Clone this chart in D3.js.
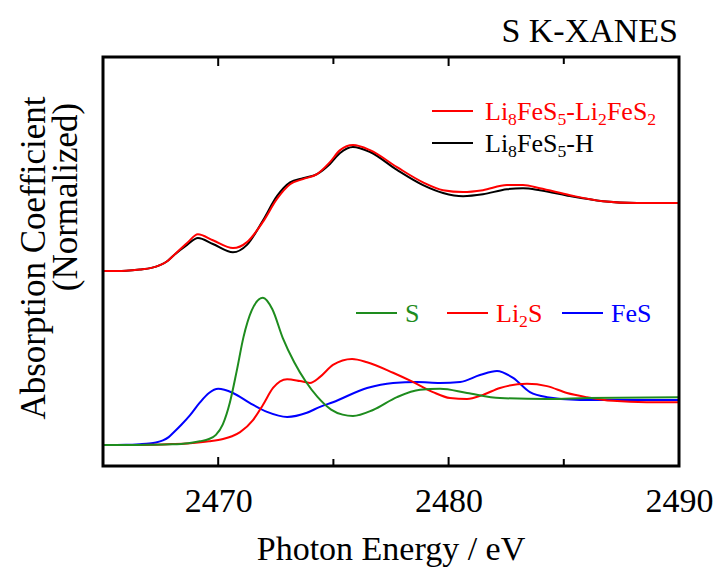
<!DOCTYPE html>
<html>
<head>
<meta charset="utf-8">
<script src="https://cdn.jsdelivr.net/npm/d3@7/dist/d3.min.js"></script>
<style>
  body { margin: 0; background: #fff; }
  svg text { font-family: "Liberation Serif", "Times New Roman", "DejaVu Serif", serif; }
</style>
</head>
<body>
<div id="chart"></div>
<script>
// S K-edge XANES, photon energy (eV) vs normalized absorption
var xTicks = [2470, 2480, 2490];
var xMinorTicks = [2470, 2475, 2480, 2485];

// reference spectra (lower panel), [energy, absorption]
var specS = [[2465,0],[2466,0],[2467,0.005],[2468,0.015],[2468.7,0.04],[2469.2,0.08],[2469.6,0.13],[2469.9,0.22],
  [2470.2,0.45],[2470.51,0.93],[2470.8,1.6],[2471.1,2.35],[2471.45,2.92],[2471.94,3.2],[2472.35,2.95],
  [2472.8,2.33],[2473.3,1.8],[2473.8,1.38],[2474.3,1.05],[2474.9,0.77],[2475.4,0.66],[2475.85,0.63],
  [2476.72,0.76],[2477.76,1.04],[2478.76,1.2],[2479.63,1.22],[2480.8,1.13],[2482.23,1.02],[2484.27,1.0],
  [2486,1.02],[2490,1.04]];
var specLi2S = [[2465,0],[2466.6,0],[2468,0.02],[2468.78,0.04],[2469.6,0.08],[2470.21,0.13],[2470.6,0.19],[2470.95,0.28],
  [2471.51,0.54],[2471.94,0.87],[2472.38,1.24],[2472.99,1.43],[2473.55,1.39],[2473.98,1.35],[2474.42,1.48],
  [2474.98,1.74],[2475.81,1.87],[2476.46,1.8],[2477.59,1.57],[2478.45,1.37],[2479.32,1.15],[2480.06,1.02],
  [2480.8,1.0],[2481.49,1.09],[2482.23,1.24],[2483.4,1.33],[2484.27,1.28],[2485.14,1.13],[2486,1.04],
  [2487.13,0.96],[2488.6,0.93],[2490,0.93]];
var specFeS = [[2465,0],[2466,0.005],[2466.6,0.018],[2467,0.032],[2467.3,0.055],[2467.6,0.1],[2467.85,0.17],
  [2468.04,0.26],[2468.4,0.44],[2468.78,0.65],[2469.2,0.92],[2469.6,1.13],[2470,1.22],[2470.64,1.13],
  [2471.38,0.91],[2472.12,0.72],[2472.99,0.61],[2473.85,0.7],[2474.42,0.83],[2474.98,0.93],[2476.46,1.24],
  [2477.59,1.35],[2478.63,1.37],[2479.63,1.35],[2480.5,1.37],[2481.36,1.52],[2482.1,1.61],[2482.8,1.46],
  [2483.53,1.15],[2484.27,1.04],[2485.7,0.98],[2490,0.98]];

// samples (upper panel), drawn with a vertical offset
var sampleOffset = 3.78;
var specLi2FeS2 = [[2465,0],[2466,0.01],[2466.6,0.035],[2467.1,0.07],[2467.47,0.13],[2467.8,0.22],[2468.04,0.33],
  [2468.65,0.61],[2469.12,0.8],[2469.77,0.67],[2470.64,0.5],[2471.25,0.63],[2471.94,1.07],[2472.55,1.57],
  [2473.12,1.89],[2473.68,2.0],[2474.29,2.11],[2474.85,2.37],[2475.29,2.63],[2475.85,2.74],[2476.59,2.63],
  [2477.76,2.26],[2478.89,1.93],[2479.76,1.76],[2480.63,1.72],[2481.49,1.76],[2482.53,1.87],[2483.23,1.87],
  [2483.96,1.8],[2485.27,1.65],[2486.7,1.52],[2488.18,1.48],[2490,1.48]];
var specH = [[2465,0],[2466,0.01],[2466.6,0.035],[2467.1,0.07],[2467.47,0.13],[2467.8,0.22],[2468.04,0.33],
  [2468.65,0.57],[2469.12,0.72],[2469.77,0.59],[2470.64,0.41],[2471.25,0.57],[2471.94,1.1],[2472.55,1.63],
  [2473.12,1.93],[2473.68,2.02],[2474.29,2.11],[2474.85,2.33],[2475.29,2.57],[2475.85,2.7],[2476.59,2.59],
  [2477.76,2.2],[2478.89,1.87],[2479.76,1.7],[2480.63,1.63],[2481.49,1.67],[2482.53,1.78],[2483.23,1.8],
  [2483.96,1.76],[2485.27,1.63],[2486.7,1.52],[2488.18,1.48],[2490,1.48]];

var RED = "#ff0000", GREEN = "#1e8c1e", BLUE = "#0000ff", BLACK = "#000000";
var SERIF = "Liberation Serif, Times New Roman, serif";

var w = 716, h = 572;
var margin = {left: 103, right: 37, top: 57, bottom: 106};

var svg = d3.select("#chart").append("svg").attr("width", w).attr("height", h)
  .attr("font-family", SERIF);

var x = d3.scaleLinear().domain([2465, 2490]).range([margin.left, w - margin.right]);
var y = d3.scaleLinear().domain([-0.457, 8.435]).range([h - margin.bottom, margin.top]);

var line = function(off) {
  return d3.line()
    .x(function(d){ return x(d[0]); })
    .y(function(d){ return y(d[1] + off); })
    .curve(d3.curveMonotoneX);
};

var plot = svg.append("g");
plot.append("clipPath").attr("id", "clip").append("rect")
  .attr("x", margin.left).attr("y", margin.top)
  .attr("width", w - margin.left - margin.right).attr("height", h - margin.top - margin.bottom);

var curves = plot.append("g").attr("clip-path", "url(#clip)");
//lower panel
curves.append("path").datum(specFeS).attr("d", line(0)).attr("fill", "none").attr("stroke", BLUE).attr("stroke-width", 2);
curves.append("path").datum(specLi2S).attr("d", line(0)).attr("fill", "none").attr("stroke", RED).attr("stroke-width", 2);
curves.append("path").datum(specS).attr("d", line(0)).attr("fill", "none").attr("stroke", GREEN).attr("stroke-width", 2);
//upper panel
curves.append("path").datum(specH).attr("d", line(sampleOffset)).attr("fill", "none").attr("stroke", BLACK).attr("stroke-width", 2);
curves.append("path").datum(specLi2FeS2).attr("d", line(sampleOffset)).attr("fill", "none").attr("stroke", RED).attr("stroke-width", 2);

// axes: ticks inside on bottom and top
var yb = h - margin.bottom, yt = margin.top;
var axB = d3.axisBottom(x).tickValues(xTicks).tickSize(0).tickPadding(22).tickFormat(d3.format("d"));
var gB = svg.append("g").attr("transform", "translate(0," + yb + ")").call(axB)
  .attr("font-family", SERIF);
gB.select(".domain").remove();
gB.selectAll("text").attr("font-size", 34).attr("fill", "#000");

svg.selectAll(".tkb").data(xMinorTicks).enter().append("line")
  .attr("x1", function(d){ return x(d); }).attr("x2", function(d){ return x(d); })
  .attr("y1", yb).attr("y2", function(d){ return d % 10 === 0 ? yb - 9 : yb - 7; })
  .attr("stroke", "#000").attr("stroke-width", 2);
svg.selectAll(".tkt").data(xMinorTicks).enter().append("line")
  .attr("x1", function(d){ return x(d); }).attr("x2", function(d){ return x(d); })
  .attr("y1", yt).attr("y2", function(d){ return d % 10 === 0 ? yt + 9 : yt + 7; })
  .attr("stroke", "#000").attr("stroke-width", 2);

svg.append("rect")
  .attr("x", margin.left).attr("y", margin.top)
  .attr("width", w - margin.left - margin.right).attr("height", h - margin.top - margin.bottom)
  .attr("fill", "none").attr("stroke", "#000").attr("stroke-width", 3);

// labels
svg.append("text").attr("x", (margin.left + w - margin.right) / 2).attr("y", 560)
  .attr("text-anchor", "middle").attr("font-size", 34).text("Photon Energy / eV");
svg.append("text").attr("transform", "translate(45,258) rotate(-90)")
  .attr("text-anchor", "middle").attr("font-size", 35).text("Absorption Coefficient");
svg.append("text").attr("transform", "translate(77,197) rotate(-90)")
  .attr("text-anchor", "middle").attr("font-size", 35).text("(Normalized)");
svg.append("text").attr("x", 678).attr("y", 42)
  .attr("text-anchor", "end").attr("font-size", 34).text("S K-XANES");

// text with subscripts: parts = [[str, isSub], ...]
function richText(g, xx, yy, parts, color, size) {
  var t = g.append("text").attr("x", xx).attr("y", yy).attr("font-size", size).attr("fill", color);
  var shift = size * 0.2, down = false;
  parts.forEach(function(p){
    var sp = t.append("tspan").text(p[0]);
    if (p[1]) {
      sp.attr("font-size", size * 0.68).attr("dy", shift);
      down = true;
    } else if (down) {
      sp.attr("dy", -shift);
      down = false;
    }
  });
  return t;
}

var leg = svg.append("g");
var topLegend = [
  {color: RED, y: 111, parts: [["Li",0],["8",1],["FeS",0],["5",1],["-Li",0],["2",1],["FeS",0],["2",1]]},
  {color: BLACK, y: 143, parts: [["Li",0],["8",1],["FeS",0],["5",1],["-H",0]]}
];
topLegend.forEach(function(d){
  leg.append("line").attr("x1", 432).attr("x2", 473).attr("y1", d.y).attr("y2", d.y)
    .attr("stroke", d.color).attr("stroke-width", 2);
  richText(leg, 485, d.y + 9, d.parts, d.color, 26);
});

var botLegend = [
  {color: GREEN, x: 356, parts: [["S",0]]},
  {color: RED, x: 447, parts: [["Li",0],["2",1],["S",0]]},
  {color: BLUE, x: 562, parts: [["FeS",0]]}
];
botLegend.forEach(function(d){
  leg.append("line").attr("x1", d.x).attr("x2", d.x + 41).attr("y1", 313).attr("y2", 313)
    .attr("stroke", d.color).attr("stroke-width", 2);
  richText(leg, d.x + 49, 322, d.parts, d.color, 26);
});
</script>
</body>
</html>
